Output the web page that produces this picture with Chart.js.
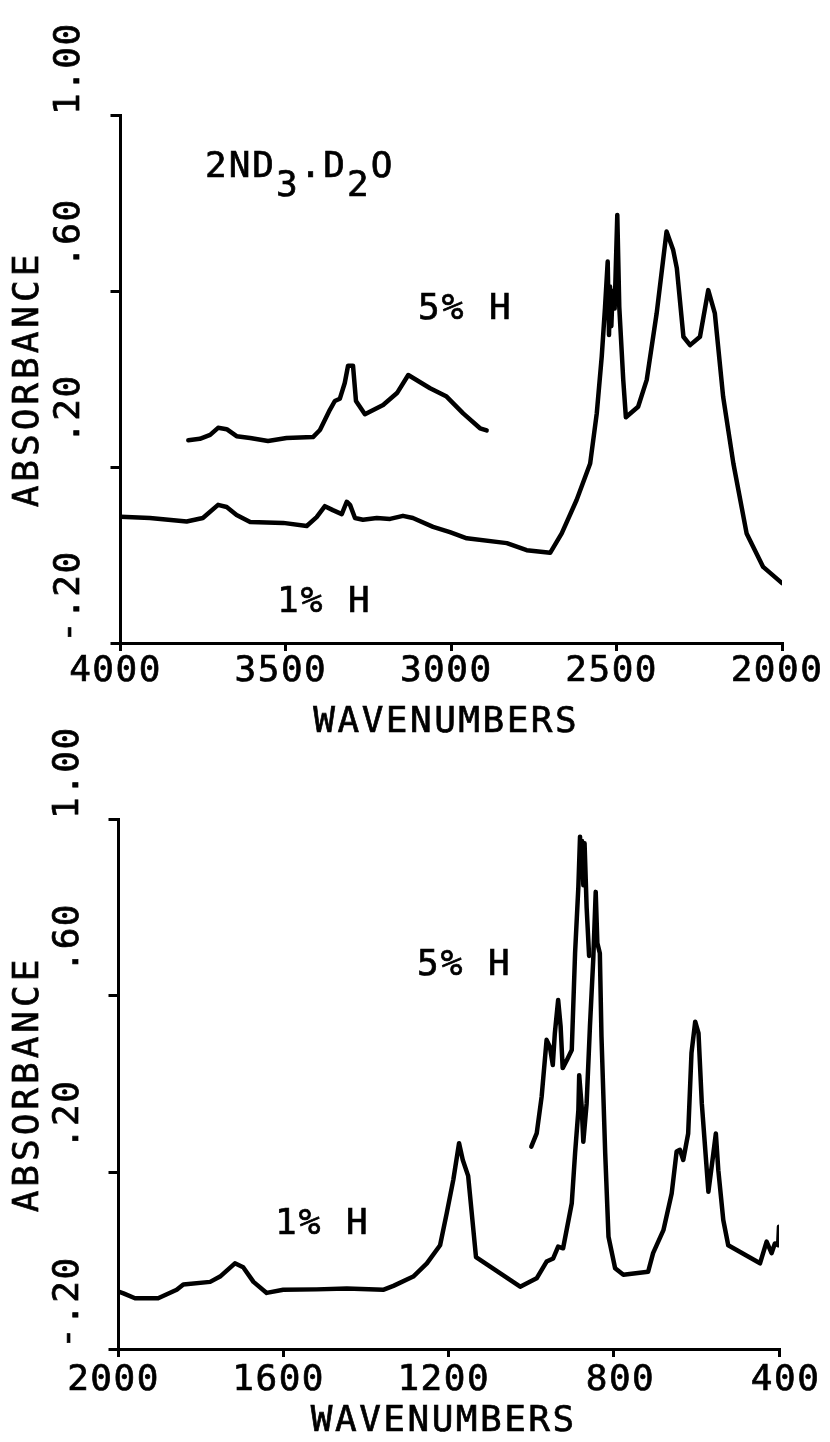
<!DOCTYPE html>
<html>
<head>
<meta charset="utf-8">
<script src="https://cdn.jsdelivr.net/npm/chart.js@4/dist/chart.umd.min.js"></script>
<style>
  html, body { margin: 0; padding: 0; background: #fff; }
  #page { position: relative; width: 830px; height: 1442px; overflow: hidden; background: #fff; }
  canvas { position: absolute; left: 0; }
  #topChart { top: 0; }
  #bottomChart { top: 690px; }
</style>
</head>
<body>
<div id="page">
  <canvas id="topChart" width="830" height="760"></canvas>
  <canvas id="bottomChart" width="830" height="752"></canvas>
</div>
<script>
// absorbance axis, shared by both panels
const absTicks = [-0.2, 0.2, 0.6, 1.0];
const absTickLabels = ['-.20', '.20', '.60', '1.00'];

// upper panel: 4000 - 2000 cm-1
const topTicksX = [4000, 3500, 3000, 2500, 2000];
const top1Wn = [4000, 3911, 3800, 3751, 3705, 3679, 3649, 3608, 3508, 3437, 3407, 3382, 3358, 3331, 3316, 3306, 3291, 3267, 3225, 3185,
  3146, 3116, 3055, 3004, 2953, 2832, 2772, 2701, 2666, 2621, 2580, 2560, 2545, 2535, 2527, 2523, 2520, 2516, 2512, 2506,
  2498, 2492, 2480, 2472, 2435, 2409, 2379, 2349, 2329, 2318, 2298, 2278, 2248, 2223, 2203, 2178, 2147, 2107, 2057, 2000];
const top1Abs = [0.087, 0.084, 0.076, 0.084, 0.114, 0.109, 0.091, 0.075, 0.073, 0.066, 0.086, 0.111, 0.102, 0.093, 0.121, 0.114, 0.084, 0.080, 0.084, 0.082,
  0.089, 0.084, 0.064, 0.052, 0.038, 0.027, 0.011, 0.005, 0.049, 0.125, 0.208, 0.322, 0.451, 0.564, 0.667, 0.500, 0.610, 0.520, 0.600, 0.560,
  0.773, 0.564, 0.398, 0.313, 0.337, 0.398, 0.549, 0.735, 0.693, 0.652, 0.496, 0.477, 0.496, 0.602, 0.549, 0.360, 0.208, 0.049, -0.027, -0.064];
const top5Wn = [3795, 3760, 3729, 3705, 3679, 3649, 3608, 3554, 3498, 3418, 3397, 3367, 3352, 3337, 3322, 3312, 3297, 3288, 3261, 3206,
  3164, 3130, 3064, 3014, 2964, 2913, 2893];
const top5Abs = [0.261, 0.264, 0.273, 0.289, 0.286, 0.270, 0.266, 0.259, 0.266, 0.268, 0.284, 0.330, 0.350, 0.355, 0.391, 0.430, 0.430, 0.350, 0.320, 0.341,
  0.368, 0.409, 0.379, 0.360, 0.322, 0.288, 0.283];

// lower panel: 2000 - 400 cm-1
const bottomTicksX = [2000, 1600, 1200, 800, 400];
const bot1Wn = [2000, 1988, 1960, 1904, 1859, 1843, 1778, 1754, 1718, 1698, 1673, 1641, 1601, 1520, 1447, 1359, 1334, 1286, 1253, 1221,
  1205, 1189, 1175, 1166, 1153, 1134, 1027, 987, 963, 947, 935, 923, 902, 894, 886, 884, 878, 874, 866, 858,
  850, 844, 840, 834, 830, 821, 813, 797, 777, 717, 705, 680, 660, 648, 640, 632, 620, 612, 603, 595,
  587, 571, 559, 553, 547, 535, 523, 446, 430, 418, 410, 402, 400];
const bot1Abs = [-0.070, -0.074, -0.085, -0.085, -0.066, -0.054, -0.048, -0.036, -0.006, -0.015, -0.048, -0.073, -0.066, -0.065, -0.063, -0.066, -0.057, -0.036, -0.006, 0.035,
  0.107, 0.183, 0.266, 0.228, 0.192, 0.008, -0.059, -0.040, -0.002, 0.005, 0.032, 0.028, 0.130, 0.243, 0.341, 0.420, 0.349, 0.269, 0.356, 0.530,
  0.681, 0.835, 0.719, 0.696, 0.507, 0.243, 0.054, -0.017, -0.032, -0.025, 0.017, 0.069, 0.152, 0.247, 0.251, 0.228, 0.288, 0.470, 0.541, 0.515,
  0.356, 0.156, 0.243, 0.288, 0.205, 0.092, 0.035, -0.006, 0.043, 0.017, 0.039, 0.035, 0.077];
const bot5Wn = [1000, 987, 975, 963, 955, 948, 943, 935, 929, 924, 914, 902, 894, 886, 882, 879, 877, 874, 871, 866, 860];
const bot5Abs = [0.258, 0.288, 0.371, 0.500, 0.484, 0.443, 0.515, 0.590, 0.530, 0.436, 0.454, 0.477, 0.696, 0.847, 0.960, 0.870, 0.950, 0.850, 0.945, 0.800, 0.690];

const FONT = '"DejaVu Sans Mono", monospace';

// plotter style lettering, placed from the chart's own scales
function pen(ctx, text, x, y) {
  ctx.fillText(text, x, y);
  ctx.strokeText(text, x, y);
}

const plotterText = {
  id: 'plotterText',
  afterDraw(chart, args, opts) {
    const ctx = chart.ctx;
    const xs = chart.scales.x, ys = chart.scales.y;
    const area = chart.chartArea;
    ctx.save();
    ctx.fillStyle = '#000';
    ctx.strokeStyle = '#000';
    ctx.lineWidth = 0.7;
    ctx.font = '36px ' + FONT;

    // absorbance tick labels, written upward from their tick
    ctx.letterSpacing = '1.5px';
    ctx.textAlign = 'left';
    ctx.textBaseline = 'middle';
    absTicks.forEach((v, i) => {
      ctx.save();
      ctx.translate(opts.yLabelX, ys.getPixelForValue(v));
      ctx.rotate(-Math.PI / 2);
      pen(ctx, absTickLabels[i].padStart(4), 0, 0);
      ctx.restore();
    });

    // wavenumber tick labels
    ctx.textAlign = 'center';
    opts.xTicks.forEach(v => {
      pen(ctx, String(v).padStart(4), xs.getPixelForValue(v) - 5, area.bottom + opts.tickDy);
    });

    // axis titles
    ctx.letterSpacing = '2.5px';
    pen(ctx, 'WAVENUMBERS', (area.left + area.right) / 2 - 5, area.bottom + opts.titleDy);
    ctx.letterSpacing = '4px';
    ctx.save();
    ctx.translate(29, (area.top + area.bottom) / 2);
    ctx.rotate(-Math.PI / 2);
    pen(ctx, 'ABSORBANCE', 0, 0);
    ctx.restore();

    // notes inside the plot, subscripts dropped below the line
    ctx.letterSpacing = '2px';
    ctx.textAlign = 'left';
    ctx.textBaseline = 'alphabetic';
    opts.notes.forEach(n => {
      let x = n.x;
      n.parts.forEach(p => {
        pen(ctx, p.t, x, n.y + (p.sub ? 19 : 0));
        x += ctx.measureText(p.t).width;
      });
    });
    ctx.restore();
  }
};

function spectrum(wn, abs) {
  return {
    data: wn.map((w, i) => ({ x: w, y: abs[i] })),
    borderColor: '#000',
    borderWidth: 4.5,
    borderJoinStyle: 'round',
    borderCapStyle: 'round',
    pointRadius: 0,
    tension: 0,
    fill: false
  };
}

function makeChart(id, cfg) {
  const axisGrid = len => ({ drawOnChartArea: false, drawTicks: true, tickLength: len, lineWidth: 3, color: '#000' });
  const axisBorder = { display: true, width: 3, color: '#000' };
  return new Chart(document.getElementById(id), {
    type: 'line',
    data: { datasets: cfg.series },
    options: {
      responsive: false,
      animation: false,
      devicePixelRatio: 1,
      layout: { padding: cfg.padding },
      plugins: {
        legend: { display: false },
        tooltip: { enabled: false },
        plotterText: cfg.text
      },
      scales: {
        x: {
          type: 'linear',
          reverse: true,
          min: Math.min(...cfg.xTicks),
          max: Math.max(...cfg.xTicks),
          afterBuildTicks: s => { s.ticks = cfg.xTicks.map(v => ({ value: v })); },
          ticks: { display: false },
          grid: axisGrid(8),
          border: axisBorder
        },
        y: {
          type: 'linear',
          min: absTicks[0],
          max: absTicks[absTicks.length - 1],
          afterBuildTicks: s => { s.ticks = absTicks.map(v => ({ value: v })); },
          ticks: { display: false },
          grid: axisGrid(10),
          border: axisBorder
        }
      }
    },
    plugins: [plotterText]
  });
}

makeChart('topChart', {
  series: [spectrum(top1Wn, top1Abs), spectrum(top5Wn, top5Abs)],
  xTicks: topTicksX,
  padding: { left: 110.5, right: 48, top: 115, bottom: 109 },
  text: {
    xTicks: topTicksX, yLabelX: 70, tickDy: 29, titleDy: 80,
    notes: [
      { x: 205, y: 177, parts: [{ t: '2ND' }, { t: '3', sub: true }, { t: '.D' }, { t: '2', sub: true }, { t: 'O' }] },
      { x: 418, y: 319, parts: [{ t: '5% H' }] },
      { x: 277, y: 612, parts: [{ t: '1% H' }] }
    ]
  }
});

makeChart('bottomChart', {
  series: [spectrum(bot1Wn, bot1Abs), spectrum(bot5Wn, bot5Abs)],
  xTicks: bottomTicksX,
  padding: { left: 108.5, right: 51, top: 129, bottom: 85 },
  text: {
    xTicks: bottomTicksX, yLabelX: 69, tickDy: 32, titleDy: 73,
    notes: [
      { x: 417, y: 285, parts: [{ t: '5% H' }] },
      { x: 275, y: 544, parts: [{ t: '1% H' }] }
    ]
  }
});
</script>
</body>
</html>
